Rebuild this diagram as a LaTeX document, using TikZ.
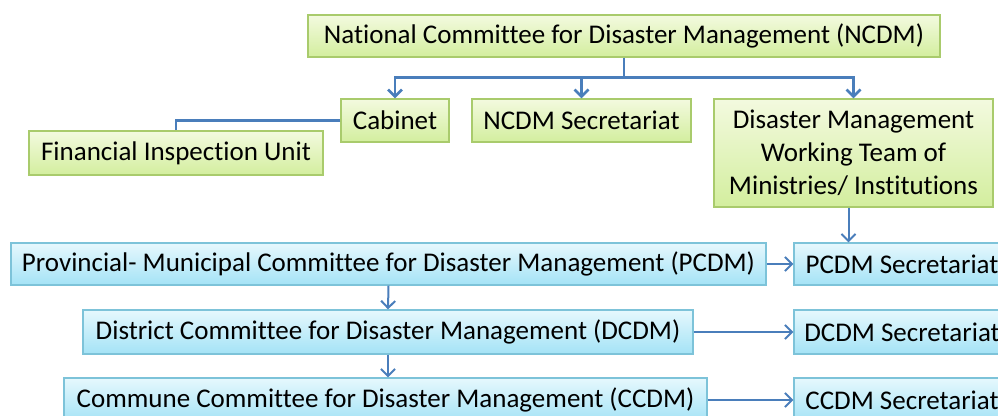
\documentclass[tikz,border=0pt]{standalone}
\usepackage{fontspec}
\setmainfont[Ligatures=NoCommon]{Carlito}
\usetikzlibrary{arrows.meta}
\definecolor{gline}{HTML}{A9CB6C}
\definecolor{gtop}{HTML}{F3FADF}
\definecolor{gbot}{HTML}{D3EE9E}
\definecolor{bline}{HTML}{7DC3D9}
\definecolor{btop}{HTML}{E6F8FD}
\definecolor{bbot}{HTML}{A4E3F6}
\definecolor{arrcol}{HTML}{4A7EBB}
\begin{document}
\begin{tikzpicture}[x=1pt, y=1pt,
		box/.style={draw, line width=1.3pt, inner sep=0pt, align=center, font=\fontsize{27}{33}\selectfont},
		gbox/.style={box, draw=gline, top color=gtop, bottom color=gbot},
		bbox/.style={box, draw=bline, top color=btop, bottom color=bbot},
		link/.style={draw=arrcol, line width=2.6pt},
		arr/.style={link, -{Straight Barb[length=7pt, width=14pt]}},
		sarr/.style={arr, line width=2pt}
		]
	\clip (0,0) rectangle (998,415);
	% national level
	\node [gbox, minimum width=632pt, minimum height=42pt] (ncdm) at (624,379) {National Committee for Disaster Management (NCDM)};
	\node [gbox, minimum width=108pt, minimum height=43pt] (cab) at (395,294.5) {Cabinet};
	\node [gbox, minimum width=219pt, minimum height=43pt] (nsec) at (581.5,294.5) {NCDM Secretariat};
	\node [gbox, minimum width=279pt, minimum height=108pt] (dmwt) at (853.5,262) {Disaster Management\\Working Team of\\Ministries/ Institutions};
	\node [gbox, minimum width=294pt, minimum height=44pt] (fiu) at (176,262) {Financial Inspection Unit};
	% sub-national levels
	\node [bbox, minimum width=755pt, minimum height=42pt] (pcdm) at (388.5,151) {Provincial- Municipal Committee for Disaster Management (PCDM)};
	\node [bbox, minimum width=216pt, minimum height=42pt] (psec) at (902,151) {PCDM Secretariat};
	\node [bbox, minimum width=610pt, minimum height=44pt] (dcdm) at (388,83) {District Committee for Disaster Management (DCDM)};
	\node [bbox, minimum width=216pt, minimum height=44pt] (dsec) at (902,83) {DCDM Secretariat};
	\node [bbox, minimum width=643pt, minimum height=44pt] (ccdm) at (385.5,15) {Commune Committee for Disaster Management (CCDM)};
	\node [bbox, minimum width=216pt, minimum height=44pt] (csec) at (902,15) {CCDM Secretariat};
	% connectors
	\draw [link] (ncdm.south) -- ++(0,-20) coordinate (br);
	\draw [arr] (br) -| (cab.north);
	\draw [arr] (br) -| (nsec.north);
	\draw [arr] (br) -| (dmwt.north);
	\draw [link] (cab.west) -| (fiu.north);
	\draw [sarr] ([xshift=-5pt]dmwt.south) -- ([xshift=-5pt]dmwt.south |- psec.north);
	\draw [sarr] (pcdm.east) -- (psec.west);
	\draw [sarr] (pcdm.south) -- (dcdm.north);
	\draw [sarr] (dcdm.south) -- (dcdm.south |- ccdm.north);
	\draw [sarr] (dcdm.east) -- (dsec.west);
	\draw [sarr] (ccdm.east) -- (csec.west);
\end{tikzpicture}
\end{document}
